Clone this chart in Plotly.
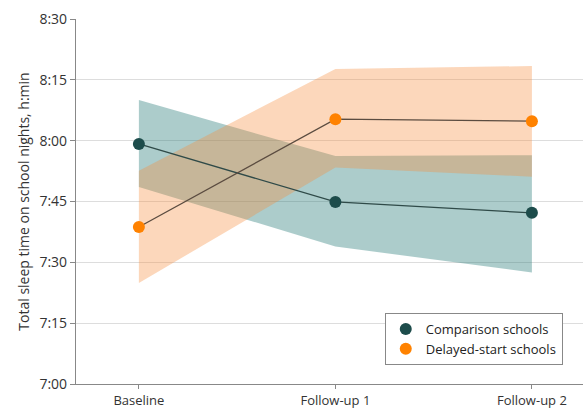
import plotly.graph_objects as go

timepoints = ["Baseline", "Follow-up 1", "Follow-up 2"]
x_pos = [0, 1, 2]

# Minutes after 7:00
comparison_mean = [59.2, 44.9, 42.2]
comparison_lo = [48.6, 33.9, 27.5]
comparison_hi = [70.0, 56.2, 56.4]

delayed_mean = [38.7, 65.3, 64.8]
delayed_lo = [24.9, 53.4, 51.1]
delayed_hi = [52.6, 77.7, 78.4]

y_tickvals = [0, 15, 30, 45, 60, 75, 90]
y_ticktext = ["7:00", "7:15", "7:30", "7:45", "8:00", "8:15", "8:30"]

teal_dot = "#1d4c4b"
orange_dot = "#ff8200"
font_family = "Open Sans, DejaVu Sans, sans-serif"

fig = go.Figure()

# Comparison band
fig.add_trace(go.Scatter(x=x_pos + x_pos[::-1], y=comparison_hi + comparison_lo[::-1],
                         fill="toself", fillcolor="rgba(47,128,125,0.4)",
                         line=dict(width=0), mode="lines", showlegend=False, hoverinfo="skip"))
# Delayed band
fig.add_trace(go.Scatter(x=x_pos + x_pos[::-1], y=delayed_hi + delayed_lo[::-1],
                         fill="toself", fillcolor="rgba(245,140,60,0.35)",
                         line=dict(width=0), mode="lines", showlegend=False, hoverinfo="skip"))

# Lines
fig.add_trace(go.Scatter(x=x_pos, y=comparison_mean, mode="lines",
                         line=dict(color="#2f4a48", width=1.3), showlegend=False))
fig.add_trace(go.Scatter(x=x_pos, y=delayed_mean, mode="lines",
                         line=dict(color="#5b4c40", width=1.3), showlegend=False))

# Markers
fig.add_trace(go.Scatter(x=x_pos, y=comparison_mean, mode="markers", name="Comparison schools",
                         marker=dict(color=teal_dot, size=12)))
fig.add_trace(go.Scatter(x=x_pos, y=delayed_mean, mode="markers", name="Delayed-start schools",
                         marker=dict(color=orange_dot, size=12)))

fig.update_layout(
    width=583, height=409,
    margin=dict(l=76, r=0, t=19, b=25, autoexpand=False),
    plot_bgcolor="white", paper_bgcolor="white",
    font=dict(family=font_family, size=13, color="#333333"),
    legend=dict(x=0.609, y=0.1945, xanchor="left", yanchor="top",
                bordercolor="#888888", borderwidth=1, bgcolor="white",
                font=dict(size=13, color="#222222"), itemsizing="constant",
                tracegroupgap=0),
)
fig.update_xaxes(range=[-0.32, 2.26], tickvals=x_pos, ticktext=timepoints,
                 showgrid=False, showline=True, linecolor="#888888", linewidth=1.2,
                 ticks="outside", ticklen=4, tickcolor="#888888",
                 tickfont=dict(size=13, color="#333333"), zeroline=False)
fig.update_yaxes(range=[0, 90], tickvals=y_tickvals, ticktext=y_ticktext,
                 showgrid=True, gridcolor="#dddddd", gridwidth=1,
                 showline=True, linecolor="#888888", linewidth=1.2,
                 ticks="outside", ticklen=5, tickcolor="#888888",
                 tickfont=dict(size=14, color="#333333"), zeroline=False,
                 title=dict(text="Total sleep time on school nights, h:min",
                            font=dict(size=14, color="#333333"), standoff=6))

fig.write_html("out.html", config={"displayModeBar": False},
               post_script="document.body.style.margin='0';")
